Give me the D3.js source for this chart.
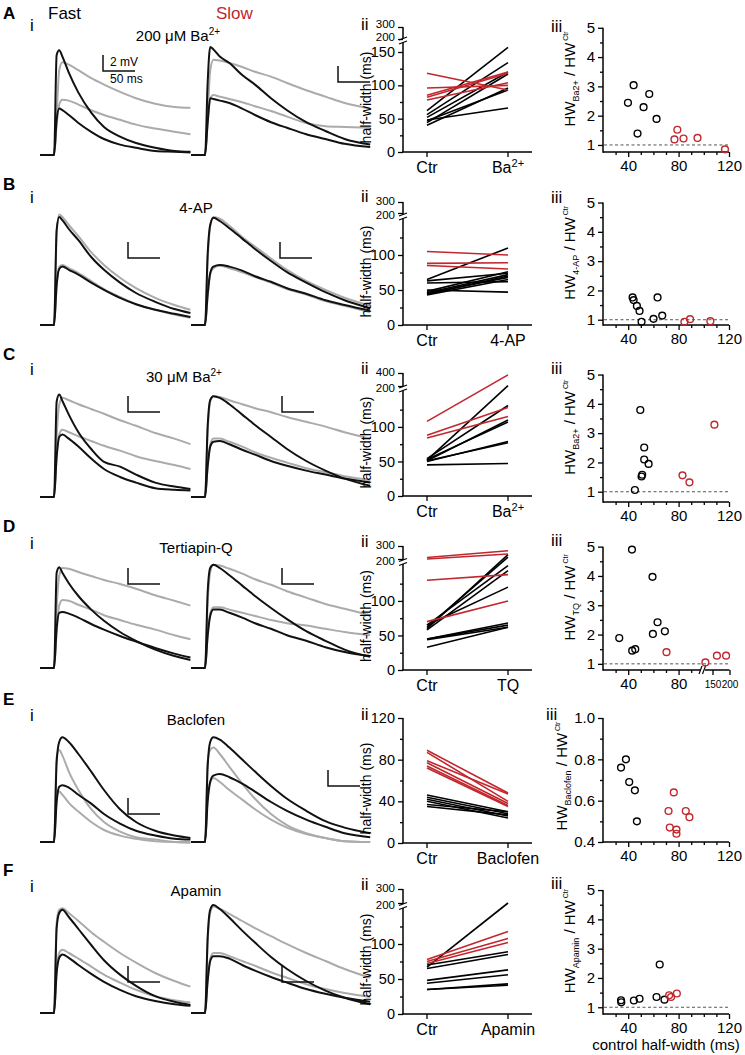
<!DOCTYPE html>
<html><head><meta charset="utf-8">
<script src="https://cdn.jsdelivr.net/npm/d3@7"></script>
<style>body{margin:0;background:#fff}svg{display:block}</style>
</head><body><svg id="c" width="745" height="1055"></svg>
<script>
// ---------------- DATA ----------------
const TIME_FAST = [0,22,26,30,35,45,60,80,100,125,150,180,210,235];
const TIME_SLOW = [0,22,26,30,35,45,60,80,100,125,150,180,210,240,280];
// traces in mV: [ctrl big, drug big, ctrl small, drug small]
const aFast = [[0,0,12.5,13.1,12.3,10.3,7.8,5.3,3.5,2.3,1.5,0.9,0.5,0.4],[0,0,5,10.6,11.6,11.3,10.6,9.6,8.8,7.9,7.1,6.4,6.0,5.9],[0,0,4.4,5.8,5.6,5,4,2.9,2,1.3,0.9,0.5,0.4,0.3],[0,0,3.8,6.3,6.9,6.8,6.3,5.6,5,4.4,3.8,3.3,2.9,2.6]];
const aSlow = [[0,0,9,13.5,13.2,12.3,11.5,10,8.8,7.1,5.6,4.1,3,2,1.3],[0,0,5,10.5,11.9,11.8,11.5,11,10.4,9.8,9,8.1,7.3,6.5,5.8],[0,0,4,7.1,7,6.8,6.5,5.8,5,4.1,3.4,2.6,2,1.4,1],[0,0,4,7,7.5,7.3,7,6.6,6.1,5.5,4.8,4,3.6,3.5,3.4]];
const bFast = [[0,0,11.9,13.5,13.1,12,10.6,8.5,6.9,5.3,4,2.9,2,1.5],[0,0,11.3,13.8,13.5,12.5,11.1,9.1,7.5,5.9,4.6,3.4,2.5,1.9],[0,0,5,7,7.3,6.9,6.3,5.3,4.4,3.4,2.6,1.9,1.4,1],[0,0,4.8,7.3,7.5,7.1,6.5,5.5,4.5,3.5,2.6,1.9,1.3,0.9]];
const bSlow = [[0,0,8.8,12.5,13.4,13,12.1,10.8,9.5,8,6.6,5.3,4.1,3.1,2.1],[0,0,8.1,12.3,13.5,13.3,12.4,11,9.8,8.3,6.9,5.5,4.4,3.4,2.4],[0,0,3.8,6.5,7.3,7.5,7.3,6.8,6.1,5.4,4.6,3.9,3.1,2.5,1.8],[0,0,3.5,6.3,7.1,7.4,7.1,6.6,6,5.3,4.5,3.8,3,2.4,1.6]];
const cFast = [[0,0,11.9,12.8,12,10.3,8.1,6,4.4,3.8,2.8,1.8,1.3,1],[0,0,7.5,11.5,12.4,12.1,11.6,11,10.4,9.6,8.9,8,7.3,6.6],[0,0,5,7.5,7.8,7.3,6.3,4.8,3.5,2.5,1.8,1.1,0.9,0.8],[0,0,5,7.8,8.4,8.1,7.6,7,6.4,5.8,5.1,4.5,4,3.5]];
const cSlow = [[0,0,8.8,12.1,12.6,12.4,11.6,10.3,9,7.5,6,4.5,3.3,2.3,1.4],[0,0,8.1,11.9,12.6,12.5,12.1,11.6,11.1,10.6,10,9.4,8.8,8.1,7.3],[0,0,3.8,6.3,6.9,7,6.6,5.9,5.3,4.5,3.9,3.3,2.8,2.3,1.8],[0,0,3.8,6.5,7.3,7.3,6.9,6.3,5.6,4.9,4.3,3.6,3.1,2.6,2.1]];
const dFast = [[0,0,11.9,12.6,11.9,10.6,9,7.3,5.9,4.5,3.4,2.3,1.5,1],[0,0,7.5,11.5,12.5,12.4,12,11.5,11,10.5,9.9,9.1,8.4,7.8],[0,0,5,6.9,7,6.8,6.3,5.5,4.8,4,3.3,2.5,1.8,1.3],[0,0,4.4,7.8,8.5,8.4,7.9,7.3,6.6,6,5.4,4.8,4.1,3.6]];
const dSlow = [[0,0,9.4,12.5,12.9,12.5,11.6,10.3,9,7.5,6.1,4.6,3.4,2.3,1.4],[0,0,8.1,12,12.9,12.8,12.4,11.8,11.1,10.4,9.6,8.8,8,7.4,6.6],[0,0,4,6.5,7.3,7.3,6.9,6.3,5.6,4.9,4.1,3.4,2.6,2,1.5],[0,0,4,6.8,7.6,7.6,7.3,6.9,6.5,6,5.6,5.3,4.9,4.5,4.1]];
const eFast = [[0,0,10,12.5,13.1,12.5,11,8.8,6.5,4.1,2.5,1.4,0.8,0.5],[0,0,10.6,11.5,10.8,8.8,6.5,4.1,2.5,1.3,0.6,0.3,0,-0.1],[0,0,5,6.9,7.1,6.8,5.9,4.8,3.5,2.3,1.4,0.8,0.4,0.3],[0,0,5.3,6.3,5.9,4.9,3.8,2.5,1.5,0.8,0.4,0.1,0,0]];
const eSlow = [[0,0,9.4,12.5,13.1,12.8,11.8,10.3,8.8,7,5.4,3.9,2.6,1.8,1.1],[0,0,10,11.5,11.8,11,9.4,7.3,5.4,3.5,2.1,1.1,0.5,0.1,0],[0,0,5,7.5,8.3,8.5,8.1,7.3,6.3,5,3.9,2.8,1.9,1.1,0.6],[0,0,5.6,7.5,8,7.5,6.5,5.3,4.1,2.8,1.8,1,0.5,0.1,0]];
const fFast = [[0,0,10.6,12.5,12.9,12,10.5,8.5,6.6,4.8,3.4,2.1,1.4,1],[0,0,11.3,12.9,13.1,12.5,11.5,10.1,8.9,7.5,6.3,5,4,3.3],[0,0,5,6.9,7.3,6.9,6,4.9,3.9,2.9,2.1,1.5,1.1,0.9],[0,0,5.3,7.5,7.9,7.5,6.8,5.8,4.8,3.8,2.9,2.1,1.6,1.3]];
const fSlow = [[0,0,9.4,12.9,13.5,13,11.9,10.3,8.8,7,5.5,4,2.8,1.9,1.1],[0,0,8.8,12.5,13.3,13,12.4,11.5,10.6,9.6,8.6,7.5,6.5,5.5,4.4],[0,0,4,6.5,7.1,7.1,6.8,6,5.3,4.5,3.8,3,2.4,1.9,1.4],[0,0,4,6.8,7.5,7.5,7.1,6.5,5.9,5.1,4.4,3.6,3,2.5,2]];

// half-width pairs [ctr, drug] (ms)
const pairsABlack = [[62,157],[56,134],[52,120],[44,117],[40,96],[47,93],[48,66]];
const pairsARed   = [[118,93],[96,100],[85,120],[82,118],[78,104]];
const pairsBBlack = [[65,110],[63,74],[60,62],[50,47],[48,76],[46,72],[44,70],[43,65],[45,68]];
const pairsBRed   = [[105,100],[88,89],[85,80]];
const pairsCBlack = [[52,205],[54,131],[51,110],[53,107],[50,79],[51,77],[45,47]];
const pairsCRed   = [[108,372],[88,128],[84,115]];
const pairsDBlack = [[60,234],[62,215],[65,151],[58,144],[65,120],[45,68],[45,65],[44,62],[33,62]];
const pairsDRed   = [[212,263],[200,239],[130,138],[70,100]];
const pairsEBlack = [[46,30],[44,28],[42,26],[40,24],[37,30],[35,27]];
const pairsERed   = [[89,48],[87,40],[79,47],[77,38],[74,36],[72,35]];
const pairsFBlack = [[67,200],[70,89],[65,85],[48,63],[44,56],[35,43],[35,41]];
const pairsFRed   = [[78,118],[75,108],[72,102]];

// ratio scatter [control half-width, ratio]
const scatABlack = [[39.8,2.44],[44.3,3.04],[47.4,1.39],[52.2,2.29],[56.7,2.74],[62.5,1.89]];
const scatARed   = [[76.7,1.19],[79,1.52],[83.9,1.22],[95,1.24],[116.8,0.85]];
const scatBBlack = [[43.5,1.76],[44.3,1.67],[46.9,1.47],[49,1.3],[50.6,0.93],[60.1,1.03],[63.3,1.76],[67,1.14]];
const scatBRed   = [[84.6,0.93],[89.1,1.02],[105.2,0.95]];
const scatCBlack = [[49.6,3.79],[52.7,2.51],[52.7,2.1],[56.2,1.95],[51.1,1.58],[50.6,1.52],[45.3,1.06]];
const scatCRed   = [[83.1,1.56],[88.6,1.32],[108.4,3.29]];
const scatDBlack = [[32.9,1.88],[43,4.9],[43.2,1.45],[45.6,1.5],[59.6,2.02],[59.3,3.97],[63.3,2.42],[69.1,2.11]];
const scatDRed   = [[70.4,1.4],[114,1.05],[163,1.28],[190,1.28]];
const scatEBlack = [[34.3,0.76],[38.2,0.80],[40.8,0.69],[45.3,0.65],[46.9,0.50]];
const scatERed   = [[72,0.55],[73,0.47],[76.2,0.64],[78.3,0.46],[78.3,0.44],[85.7,0.55],[88.6,0.52]];
const scatFBlack = [[34.3,1.24],[34.5,1.17],[44.5,1.23],[49,1.29],[62.5,1.35],[68.8,1.26],[65,2.46]];
const scatFRed   = [[72.5,1.41],[74,1.35],[78.6,1.47]];

const drugTicks = ['Ba2+','4-AP','Ba2+','TQ','Baclofen','Apamin'];
const drugTitles = ['200 μM Ba2+','4-AP','30 μM Ba2+','Tertiapin-Q','Baclofen','Apamin'];
const rowLetters = ['A','B','C','D','E','F'];

// ---------------- LAYOUT ----------------
const FONT = 'Arial, "Liberation Sans", Helvetica, sans-serif';
const RED = '#c1272d', GREY = '#ababab';
const svg = d3.select('#c').attr('font-family', FONT);

const rows = [
 {letterY:19, iY:31, iiY:30, iiiY:32, titleX:178, titleY:41, base:155, barF:[103,71], barS:[338,82],
  iiDom:[0,165,200,300], iiRange:[152,42,39,27], iiMaj:[0,50,100,150,200,300], iiMin:[25,75,125], upOff:[-2,-3.5],
  iiiY0:152, iiiMin:0.76, traces:[aFast,aSlow], pb:pairsABlack, pr:pairsARed, sb:scatABlack, sr:scatARed},
 {letterY:190, iY:203, iiY:202, iiiY:203, titleX:196, titleY:213, base:325, barF:[128,258], barS:[280,258],
  iiDom:[0,150,200,300], iiRange:[325,220,213,202], iiMaj:[0,50,100,200,300], iiMin:[25,75,125], upOff:[1.5,-1.5],
  iiiY0:325, iiiMin:0.82, traces:[bFast,bSlow], pb:pairsBBlack, pr:pairsBRed, sb:scatBBlack, sr:scatBRed},
 {letterY:360, iY:375, iiY:374, iiiY:374, titleX:184, titleY:382, base:497, barF:[128,412], barS:[282,412],
  iiDom:[0,152,200,400], iiRange:[496,391,386,373], iiMaj:[0,50,100,200,400], iiMin:[25,75,125], upOff:[1.5,-1.5],
  iiiY0:502, iiiMin:0.65, traces:[cFast,cSlow], pb:pairsCBlack, pr:pairsCRed, sb:scatCBlack, sr:scatCRed},
 {letterY:532, iY:549, iiY:547, iiiY:546, titleX:196, titleY:553, base:668, barF:[128,584], barS:[282,584],
  iiDom:[0,152,200,300], iiRange:[670,565,559,546], iiMaj:[0,50,100,200,300], iiMin:[25,75,125], upOff:[1.5,-1.5],
  iiiY0:670, iiiMin:0.79, xBreak:true, traces:[dFast,dSlow], pb:pairsDBlack, pr:pairsDRed, sb:scatDBlack, sr:scatDRed},
 {letterY:705, iY:721, iiY:720, iiiY:720, titleX:196, titleY:725, base:842, barF:[128,814], barS:[328,786],
  iiDom:[0,120], iiRange:[843,718], iiMaj:[0,40,80,120], iiMin:[20,60,100],
  iiiY0:842, iiiMin:0.4, ratioSmall:true, traces:[eFast,eSlow], pb:pairsEBlack, pr:pairsERed, sb:scatEBlack, sr:scatERed},
 {letterY:876, iY:892, iiY:890, iiiY:889, titleX:196, titleY:896, base:1013, barF:[128,982], barS:[282,982],
  iiDom:[0,150,200,300], iiRange:[1014,909,903,889], iiMaj:[0,50,100,200,300], iiMin:[25,75,125], upOff:[1.5,-1.5],
  iiiY0:1014, iiiMin:0.77, traces:[fFast,fSlow], pb:pairsFBlack, pr:pairsFRed, sb:scatFBlack, sr:scatFRed}
];

function richText(sel, str, supSize) {
  const m = str.match(/^(.*Ba)(2\+)$/);
  if (m) {
    sel.append('tspan').text(m[1]);
    sel.append('tspan').attr('font-size', supSize).attr('dy', -6).text(m[2]);
  } else sel.text(str);
}
function styleAxis(g, fs) {
  g.selectAll('.domain').remove();
  g.attr('font-size', fs).attr('font-family', FONT);
  g.selectAll('line').attr('stroke-width', 1.3);
  g.selectAll('text').attr('fill', '#000');
}

svg.append('text').attr('x',48).attr('y',19).attr('font-size',17).text('Fast');
svg.append('text').attr('x',216).attr('y',19).attr('font-size',17).attr('fill',RED).text('Slow');

rows.forEach((r, ri) => {
  svg.append('text').attr('x',3).attr('y',r.letterY).attr('font-size',17).attr('font-weight','bold').text(rowLetters[ri]);
  svg.append('text').attr('x',30).attr('y',r.iY).attr('font-size',17).text('i');
  svg.append('text').attr('x',361).attr('y',r.iiY).attr('font-size',17).text('ii');
  svg.append('text').attr('x',r.ratioSmall ? 546 : 551).attr('y',r.iiiY).attr('font-size',17).text('iii');
  const tt = svg.append('text').attr('x',r.titleX).attr('y',r.titleY).attr('font-size',15).attr('text-anchor','middle');
  richText(tt, drugTitles[ri], 10);

  // ---- traces ----
  [[TIME_FAST, r.traces[0], 40, r.barF], [TIME_SLOW, r.traces[1], 191, r.barS]].forEach(([T, tr, x0, bar], pi) => {
    const tmax = d3.max(T);
    const x = d3.scaleLinear().domain([0, tmax]).range([x0, x0 + tmax*0.64]);
    const y = d3.scaleLinear().domain([0, 2]).range([r.base, r.base - 16]);
    const line = d3.line().x((d,i)=>x(T[i])).y(d=>y(d)).curve(d3.curveMonotoneX);
    [1,3,0,2].forEach(k => {
      svg.append('path').attr('d', line(tr[k])).attr('fill','none')
        .attr('stroke', k % 2 ? GREY : '#111').attr('stroke-width', 2).attr('stroke-linejoin','round');
    });
    const bw = x(50) - x(0), bh = y(0) - y(2);
    svg.append('path').attr('d', `M${bar[0]},${bar[1]-bh}V${bar[1]}H${bar[0]+bw}`)
      .attr('fill','none').attr('stroke','#111').attr('stroke-width',1.5);
    if (ri === 0 && pi === 0) {
      svg.append('text').attr('x', bar[0]+7).attr('y', bar[1]-5).attr('font-size',12).text('2 mV');
      svg.append('text').attr('x', bar[0]+7).attr('y', bar[1]+12).attr('font-size',12).text('50 ms');
    }
  });

  // ---- panel ii ----
  const yS = d3.scaleLinear().domain(r.iiDom).range(r.iiRange);
  const xP = d3.scalePoint().domain(['Ctr', drugTicks[ri]]).range([427, 508]);
  const y0 = r.iiRange[0], yTop = r.iiRange[r.iiRange.length-1];
  const gy = svg.append('g').attr('transform','translate(403,0)');
  gy.call(d3.axisLeft(yS).tickValues(r.iiMaj).tickSize(5).tickSizeOuter(0).tickPadding(3).tickFormat(d3.format('d')));
  styleAxis(gy, 14.5);
  if (r.iiDom.length > 2) {
    gy.selectAll('.tick text').filter(v => v >= 200)
      .attr('font-size', 11.5)
      .attr('y', v => v === 200 ? r.upOff[0] : r.upOff[1]);
  }
  const gym = svg.append('g').attr('transform','translate(403,0)');
  gym.call(d3.axisLeft(yS).tickValues(r.iiMin).tickSize(3).tickSizeOuter(0).tickFormat(''));
  styleAxis(gym, 14.5);
  if (r.iiDom.length > 2) {
    const yb = (r.iiRange[1] + r.iiRange[2]) / 2;
    svg.append('line').attr('x1',403).attr('x2',403).attr('y1',y0).attr('y2',yb+2).attr('stroke','#000').attr('stroke-width',1.5);
    svg.append('line').attr('x1',403).attr('x2',403).attr('y1',yb-2).attr('y2',yTop).attr('stroke','#000').attr('stroke-width',1.5);
    [yb+2, yb-2].forEach(yy => svg.append('line').attr('x1',399).attr('x2',407).attr('y1',yy+1.5).attr('y2',yy-1.5).attr('stroke','#000').attr('stroke-width',1.3));
  } else {
    svg.append('line').attr('x1',403).attr('x2',403).attr('y1',y0).attr('y2',yTop).attr('stroke','#000').attr('stroke-width',1.5);
  }
  svg.append('line').attr('x1',402.3).attr('x2',532).attr('y1',y0).attr('y2',y0).attr('stroke','#000').attr('stroke-width',1.5);
  xP.domain().forEach(k => {
    svg.append('line').attr('x1',xP(k)).attr('x2',xP(k)).attr('y1',y0).attr('y2',y0+5).attr('stroke','#000').attr('stroke-width',1.3);
    const t = svg.append('text').attr('x',xP(k)).attr('y',y0+21).attr('font-size',16).attr('text-anchor','middle');
    richText(t, k, 11);
  });
  svg.append('text').attr('transform',`translate(371,${(y0+yTop)/2+8}) rotate(-90)`)
    .attr('text-anchor','middle').attr('font-size',14).text('half-width (ms)');
  const drawPairs = (arr, col) => arr.forEach(p => {
    svg.append('line').attr('x1',xP('Ctr')).attr('y1',yS(p[0])).attr('x2',xP(drugTicks[ri])).attr('y2',yS(p[1]))
      .attr('stroke',col).attr('stroke-width',1.6);
  });
  drawPairs(r.pb, '#000');
  drawPairs(r.pr, RED);

  // ---- panel iii ----
  const xs = r.xBreak ? d3.scaleLinear().domain([20,97,112,150,200]).range([603,700,705,712.5,729.5])
                      : d3.scaleLinear().domain([20,120]).range([603,729]);
  const ys = r.ratioSmall ? d3.scaleLinear().domain([0.4,1.0]).range([842,718])
                          : d3.scaleLinear().domain([r.iiiMin,5]).range([r.iiiY0, r.iiiY0 - (5 - r.iiiMin)*29.3]);
  const yb0 = ys.range()[0], yt0 = ys.range()[ys.range().length-1];
  const xMaj = r.xBreak ? [40,80,150,200] : [40,80,120];
  const xMin = r.xBreak ? [30,50,60,70,90] : [30,50,60,70,90,100,110];
  const gx = svg.append('g').attr('transform',`translate(0,${yb0})`);
  gx.call(d3.axisBottom(xs).tickValues(xMaj).tickSize(5).tickSizeOuter(0).tickPadding(3).tickFormat(d3.format('d')));
  styleAxis(gx, 15);
  if (r.xBreak) {
    gx.selectAll('.tick text').filter(d => d >= 150).attr('font-size', 10).attr('dy', '0.95em');
  }
  const gxm = svg.append('g').attr('transform',`translate(0,${yb0})`);
  gxm.call(d3.axisBottom(xs).tickValues(xMin).tickSize(3).tickSizeOuter(0).tickFormat(''));
  styleAxis(gxm, 15);
  if (r.xBreak) {
    svg.append('line').attr('x1',603).attr('x2',701).attr('y1',yb0).attr('y2',yb0).attr('stroke','#000').attr('stroke-width',1.5);
    svg.append('line').attr('x1',705).attr('x2',729.5).attr('y1',yb0).attr('y2',yb0).attr('stroke','#000').attr('stroke-width',1.5);
    [700.5,704].forEach(xx => svg.append('line').attr('x1',xx-1.5).attr('x2',xx+1.5).attr('y1',yb0+4).attr('y2',yb0-4).attr('stroke','#000').attr('stroke-width',1.2));
  } else {
    svg.append('line').attr('x1',603).attr('x2',729).attr('y1',yb0).attr('y2',yb0).attr('stroke','#000').attr('stroke-width',1.5);
  }
  const yMaj = r.ratioSmall ? [0.4,0.6,0.8,1.0] : [1,2,3,4,5];
  const yMin = r.ratioSmall ? [0.5,0.7,0.9] : [1.5,2.5,3.5,4.5];
  const gl = svg.append('g').attr('transform','translate(603,0)');
  gl.call(d3.axisLeft(ys).tickValues(yMaj).tickSize(5).tickSizeOuter(0).tickPadding(3).tickFormat(r.ratioSmall ? d3.format('.1f') : d3.format('d')));
  styleAxis(gl, 15);
  const glm = svg.append('g').attr('transform','translate(603,0)');
  glm.call(d3.axisLeft(ys).tickValues(yMin).tickSize(3).tickSizeOuter(0).tickFormat(''));
  styleAxis(glm, 15);
  svg.append('line').attr('x1',603).attr('x2',603).attr('y1',yb0+0.7).attr('y2',yt0).attr('stroke','#000').attr('stroke-width',1.5);
  if (!r.ratioSmall) {
    svg.append('line').attr('x1',604).attr('x2',729).attr('y1',ys(1)).attr('y2',ys(1))
      .attr('stroke','#555').attr('stroke-width',1).attr('stroke-dasharray','3,2.5');
  }
  const labX = r.ratioSmall ? 567 : 575;
  const lab = svg.append('text').attr('transform',`translate(${labX},${(yb0+yt0)/2 - (r.ratioSmall ? 4 : 11)}) rotate(-90)`)
    .attr('text-anchor','middle').attr('font-size',15);
  lab.append('tspan').text('HW');
  lab.append('tspan').attr('font-size',9).attr('dy',4).text(drugTicks[ri]);
  lab.append('tspan').attr('dy',-4).text(' / HW');
  lab.append('tspan').attr('font-size',7).attr('dy',-7).text('  Ctr');
  const dots = (arr, col) => arr.forEach(p => {
    svg.append('circle').attr('cx',xs(p[0])).attr('cy',ys(p[1])).attr('r',3.4)
      .attr('fill','none').attr('stroke',col).attr('stroke-width',1.4);
  });
  dots(r.sb, '#000');
  dots(r.sr, RED);
});

svg.append('text').attr('x',666).attr('y',1050).attr('text-anchor','middle').attr('font-size',15).text('control half-width (ms)');
</script>
</body></html>
